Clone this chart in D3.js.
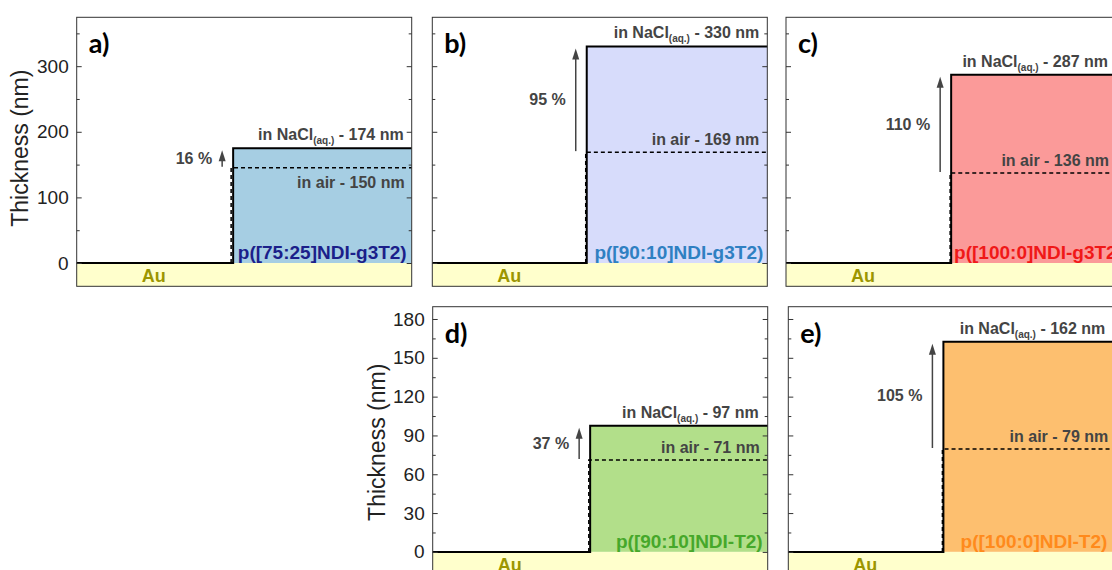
<!DOCTYPE html>
<html><head><meta charset="utf-8">
<script src="https://cdn.jsdelivr.net/npm/d3@7"></script>
<style>
html,body{margin:0;padding:0;background:#fff;}
svg{display:block;font-family:"Liberation Sans",Arial,sans-serif;}
</style></head>
<body><svg id="chart" width="1112" height="570"></svg>
<script>
// ---- data ----
const panelLetters = ["a)", "b)", "c)", "d)", "e)"];
const polymerNames = ["p([75:25]NDI-g3T2)", "p([90:10]NDI-g3T2)", "p([100:0]NDI-g3T2)", "p([90:10]NDI-T2)", "p([100:0]NDI-T2)"];
const naclThickness = [175, 330, 287, 97.5, 162.5];   // swollen film (line level, nm)
const airThickness = [145, 169, 137, 71, 79.5];       // dry film (line level, nm)
const naclLabelValues = [174, 330, 287, 97, 162];
const airLabelValues = [150, 169, 136, 71, 79];
const swellingLabels = ["16 %", "95 %", "110 %", "37 %", "105 %"];
const edgePosition = [46.7, 46.1, 49.3, 47.0, 46.3];    // film edge (x, % of scan)
const airEdgePosition = [46.1, 45.8, 49.0, 46.6, 46.0];
const fillColors = ["#a6cee3", "#d7dcfb", "#fb9a99", "#b2df8a", "#fdbf6f"];
const labelColors = ["#1b1f8a", "#2f80c2", "#f01818", "#46a82a", "#ff8a1c"];
const topTicks = [0, 100, 200, 300];
const topMinor = [50, 150, 250, 350];
const bottomTicks = [0, 30, 60, 90, 120, 150, 180];
const bottomMinor = [15, 45, 75, 105, 135, 165];
const axisTitle = "Thickness (nm)";
const substrateLabel = "Au";

// ---- layout ----
const W = 335, H = 269;
const panelPos = [[76.7, 17.3], [432.3, 17.3], [786, 17.3], [432.7, 306.7], [788.3, 306.7]];
const showLabels = [true, false, false, true, false];
const airBelow = [true, false, false, false, false];
const naclInset = [8, 8, 13, 9, 18];
const airInset = [7, 8, 12, 8, 15];
const nameInset = [5, 4, -2, 5, 16];
const svg = d3.select("#chart");

panelPos.forEach((pos, i) => {
  const top = i < 3;
  const g = svg.append("g").attr("transform", `translate(${pos[0]},${pos[1]})`);
  const x = d3.scaleLinear().domain([0, 100]).range([0, W]);
  const y = d3.scaleLinear().domain(top ? [-35.5, 374.5] : [-18.4, 189.5]).range([H, 0]);
  const major = top ? topTicks : bottomTicks;
  const minor = top ? topMinor : bottomMinor;

  // polymer fill
  g.append("rect").attr("x", x(edgePosition[i])).attr("y", y(naclThickness[i]))
    .attr("width", x(100) - x(edgePosition[i])).attr("height", y(0) - y(naclThickness[i]))
    .attr("fill", fillColors[i]);
  // Au substrate
  g.append("rect").attr("x", 0).attr("y", y(0)).attr("width", W).attr("height", H - y(0))
    .attr("fill", "#ffffcc");
  g.append("text").attr("x", 77).attr("y", y(0) + 19).attr("text-anchor", "middle")
    .attr("font-size", 18).attr("font-weight", "bold").attr("fill", "#9c9600").text(substrateLabel);

  // dry (air) profile dashed
  g.append("path")
    .attr("d", `M${x(airEdgePosition[i])},${y(0)}V${y(airThickness[i])}H${x(100)}`)
    .attr("fill", "none").attr("stroke", "#000").attr("stroke-width", 1.5).attr("stroke-dasharray", "4,3");
  // swollen profile solid
  g.append("path")
    .attr("d", `M0,${y(0)}H${x(edgePosition[i])}V${y(naclThickness[i])}H${x(100)}`)
    .attr("fill", "none").attr("stroke", "#000").attr("stroke-width", 2);

  // swelling arrow
  const ax = x(edgePosition[i]) - 11;
  const yA = y(airThickness[i]) - 1, yN = y(naclThickness[i]) + 2;
  g.append("line").attr("x1", ax).attr("x2", ax).attr("y1", yA).attr("y2", yN + 8)
    .attr("stroke", "#444").attr("stroke-width", 1.5);
  g.append("path").attr("d", `M${ax},${yN}L${ax - 3.5},${yN + 11}L${ax + 3.5},${yN + 11}Z`).attr("fill", "#444");
  g.append("text").attr("x", ax - 10).attr("y", (yA + yN) / 2 + 5.5).attr("text-anchor", "end")
    .attr("font-size", 16).attr("font-weight", "bold").attr("fill", "#444").text(swellingLabels[i]);

  // NaCl label
  const tN = g.append("text").attr("x", W - naclInset[i]).attr("y", y(naclThickness[i]) - 8).attr("text-anchor", "end")
    .attr("font-size", 16).attr("font-weight", "bold").attr("fill", "#444");
  tN.append("tspan").text("in NaCl");
  tN.append("tspan").attr("font-size", 10).attr("dy", 4).text("(aq.)");
  tN.append("tspan").attr("dy", -4).text(` - ${naclLabelValues[i]} nm`);
  // air label
  g.append("text").attr("x", W - airInset[i]).attr("y", y(airThickness[i]) + (airBelow[i] ? 20 : -7))
    .attr("text-anchor", "end").attr("font-size", 16).attr("font-weight", "bold").attr("fill", "#444")
    .text(`in air - ${airLabelValues[i]} nm`);
  // polymer name
  g.append("text").attr("x", W - nameInset[i]).attr("y", y(0) - 4).attr("text-anchor", "end")
    .attr("font-size", 19).attr("font-weight", "bold").attr("fill", labelColors[i]).text(polymerNames[i]);

  // panel letter
  g.append("text").attr("x", 12).attr("y", 36).attr("font-family", "Lato, 'Open Sans', sans-serif")
    .attr("font-size", 27).attr("font-weight", "bold").attr("fill", "#000").text(panelLetters[i]);

  // axes (ticks inward both sides)
  const left = d3.axisLeft(y).tickValues(major).tickSize(-5).tickPadding(8)
    .tickFormat(showLabels[i] ? d3.format("d") : () => "");
  const gl = g.append("g").call(left);
  g.append("g").call(d3.axisLeft(y).tickValues(minor).tickSize(-3).tickFormat(() => ""));
  g.append("g").attr("transform", `translate(${W},0)`)
    .call(d3.axisRight(y).tickValues(major).tickSize(-5).tickFormat(() => ""));
  g.append("g").attr("transform", `translate(${W},0)`)
    .call(d3.axisRight(y).tickValues(minor).tickSize(-3).tickFormat(() => ""));
  g.selectAll(".domain").remove();
  g.selectAll(".tick line").attr("stroke", "#333");
  gl.selectAll(".tick text").attr("font-size", 19).attr("fill", "#222")
    .attr("font-family", "'Liberation Sans', Arial, sans-serif");

  // frame
  g.append("rect").attr("x", 0).attr("y", 0).attr("width", W).attr("height", H)
    .attr("fill", "none").attr("stroke", "#333").attr("stroke-width", 1);

  if (showLabels[i]) {
    g.append("text").attr("transform", `translate(${top ? -48.5 : -47.5},${y(top ? 175 : 84.7)}) rotate(-90)`)
      .attr("text-anchor", "middle").attr("font-size", 23).attr("fill", "#222").text(axisTitle);
  }
});
</script></body></html>
